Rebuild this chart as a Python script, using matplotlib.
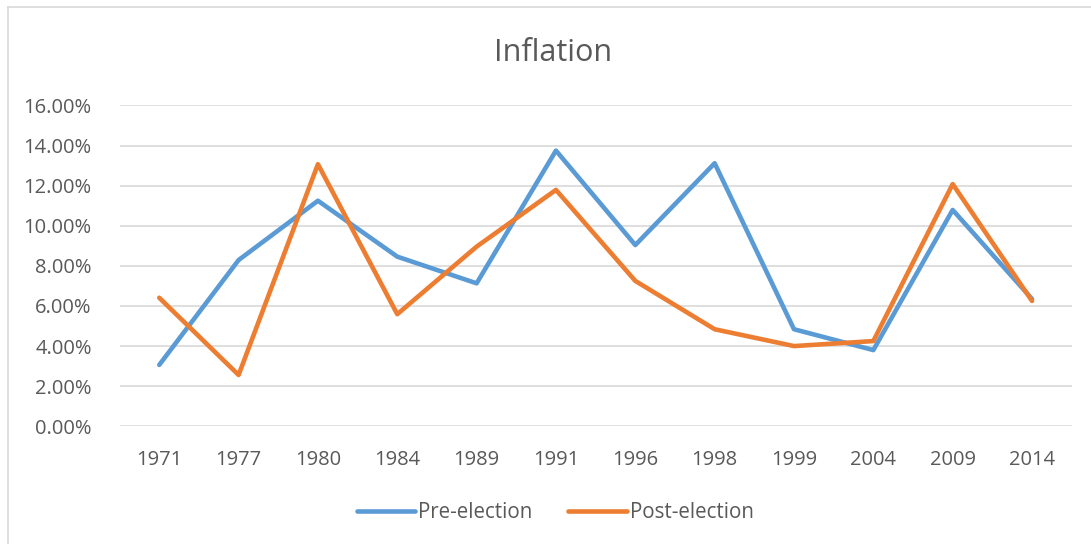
import numpy as np
import matplotlib
matplotlib.use("Agg")
import matplotlib.pyplot as plt
from matplotlib.lines import Line2D
from matplotlib.ticker import FuncFormatter

plt.rcParams['font.family'] = ['Open Sans', 'DejaVu Sans']

years = ['1971', '1977', '1980', '1984', '1989', '1991',
         '1996', '1998', '1999', '2004', '2009', '2014']
pre_election = [3.06, 8.29, 11.25, 8.46, 7.13, 13.75,
                9.04, 13.12, 4.84, 3.80, 10.79, 6.35]
post_election = [6.41, 2.56, 13.07, 5.59, 8.96, 11.79,
                 7.25, 4.84, 4.00, 4.25, 12.08, 6.25]

text_col = '#595959'
blue = '#5B9BD5'
orange = '#ED7D31'

fig = plt.figure(figsize=(10.91, 5.44), dpi=100)
ax = fig.add_axes([0.1096, 0.2164, 0.8727, 0.5897])

x = np.arange(len(years))
ax.plot(x, np.array(pre_election) / 100, color=blue, lw=3.3,
        solid_capstyle='round', solid_joinstyle='round', label='Pre-election')
ax.plot(x, np.array(post_election) / 100, color=orange, lw=3.3,
        solid_capstyle='round', solid_joinstyle='round', label='Post-election')

ax.set_xlim(-0.5, len(years) - 0.5)
ax.set_ylim(0, 0.16)
ax.set_yticks(np.arange(0, 0.161, 0.02))
ax.yaxis.set_major_formatter(FuncFormatter(lambda v, p: f"{v*100:.2f}%"))
ax.set_xticks(x)
ax.set_xticklabels(years)

ax.grid(axis='y', color='#D9D9D9', lw=1.2)
ax.set_axisbelow(True)
for s in ax.spines.values():
    s.set_visible(False)
ax.tick_params(axis='both', length=0, labelsize=14.5, labelcolor=text_col)
ax.tick_params(axis='x', pad=17)
ax.tick_params(axis='y', pad=20)

fig.text(0.507, 0.903, 'Inflation', ha='center', va='center',
         fontsize=22, color=text_col)

fig.legend(loc='center', bbox_to_anchor=(0.509, 0.057), ncol=2, frameon=False,
           fontsize=14.8, labelcolor=text_col, handlelength=2.85,
           handletextpad=0.15, columnspacing=1.75)

# chart frame (left and top edges)
fig.add_artist(Line2D([0.0069, 0.0069], [0, 0.9871], color='#D9D9D9', lw=1.2,
                      transform=fig.transFigure))
fig.add_artist(Line2D([0.0069, 1], [0.9871, 0.9871], color='#D9D9D9', lw=1.2,
                      transform=fig.transFigure))

fig.savefig('out.png', dpi=100)
